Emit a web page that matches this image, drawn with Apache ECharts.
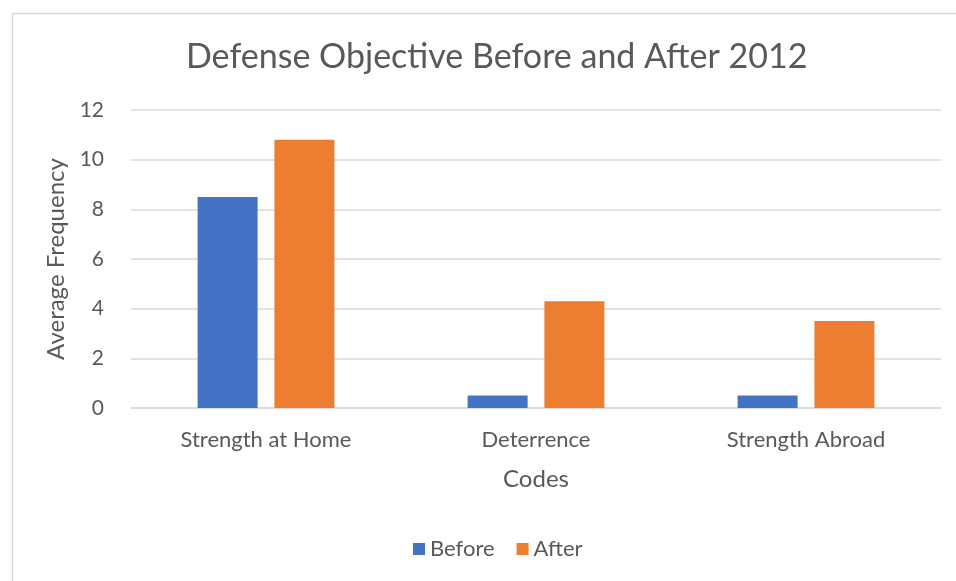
<!DOCTYPE html>
<html>
<head>
<meta charset="utf-8">
<script src="https://cdn.jsdelivr.net/npm/echarts@6/dist/echarts.min.js"></script>
<style>html,body{margin:0;padding:0;background:#fff}#c{width:956px;height:581px}</style>
</head>
<body>
<div id="c"></div>
<script>
const categories = ['Strength at Home', 'Deterrence', 'Strength Abroad'];
const beforeValues = [8.5, 0.5, 0.5];
const afterValues = [10.8, 4.3, 3.5];
const yTicks = { min: 0, max: 12, interval: 2 };

const FONT = 'Lato';
const chart = echarts.init(document.getElementById('c'), null, { renderer: 'canvas' });
chart.setOption({
  animation: false,
  backgroundColor: '#fff',
  graphic: [{
    type: 'rect', left: 10, top: 11, silent: true,
    shape: { width: 1000, height: 1000 },
    style: { fill: 'none', stroke: '#D9D9D9', lineWidth: 1.5 }
  }],
  title: {
    text: 'Defense Objective Before and After 2012',
    left: 181, top: 35,
    textStyle: { fontFamily: FONT, fontSize: 34, fontWeight: 'normal', color: '#595959' }
  },
  grid: { left: 131, right: 15, top: 110, bottom: 173, containLabel: false },
  legend: {
    bottom: 16, left: 408, itemWidth: 12, itemHeight: 12, itemGap: 22, icon: 'rect',
    textStyle: { fontFamily: FONT, fontSize: 22, color: '#595959' },
    data: ['Before', 'After']
  },
  xAxis: {
    type: 'category', data: categories,
    name: 'Codes', nameLocation: 'middle', nameGap: 59,
    nameTextStyle: { fontFamily: FONT, fontSize: 24, color: '#595959' },
    axisLine: { lineStyle: { color: '#D9D9D9', width: 1.5 } },
    axisTick: { show: false },
    axisLabel: { fontFamily: FONT, fontSize: 22, color: '#595959', margin: 21 }
  },
  yAxis: {
    type: 'value', min: yTicks.min, max: yTicks.max, interval: yTicks.interval,
    name: 'Average Frequency', nameLocation: 'middle', nameGap: 52,
    nameTextStyle: { fontFamily: FONT, fontSize: 24, color: '#595959' },
    axisLine: { show: false }, axisTick: { show: false },
    axisLabel: { fontFamily: FONT, fontSize: 21, color: '#595959', margin: 27 },
    splitLine: { lineStyle: { color: '#D9D9D9', width: 1.5 } }
  },
  series: [
    { name: 'Before', type: 'bar', data: beforeValues, barWidth: 60, barGap: '28%',
      itemStyle: { color: '#4472C4' } },
    { name: 'After', type: 'bar', data: afterValues, barWidth: 60, barGap: '28%',
      itemStyle: { color: '#ED7D31' } }
  ]
});
</script>
</body>
</html>
